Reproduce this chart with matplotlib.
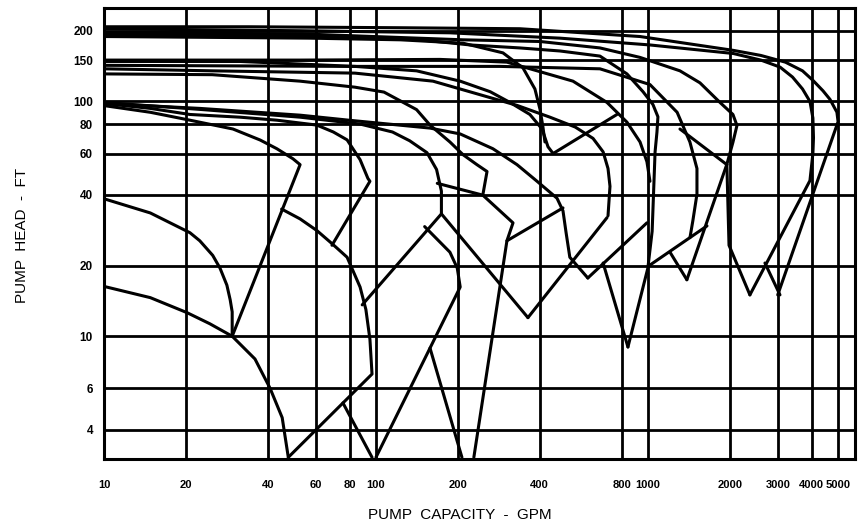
import matplotlib
matplotlib.use("Agg")
import matplotlib.pyplot as plt

# ---- data (capacity in GPM, head in ft) ----
x_ticks = [10, 20, 40, 60, 80, 100, 200, 400, 800, 1000, 2000, 3000, 4000, 5000]
y_ticks = [4, 6, 10, 20, 40, 60, 80, 100, 150, 200]

# smallest pumps
p1_lo_q = [10, 14.8, 20.2, 24.5, 29.6, 35.9, 40.8, 45.2, 47.6]
p1_lo_h = [16.3, 14.6, 12.6, 11.3, 10.0, 8.0, 6.0, 4.5, 3.05]
p1_min_q = [10, 14.8, 20.7, 22.5, 25.1, 26.7, 28.3, 29.1, 29.6, 29.6]
p1_min_h = [38.5, 33.5, 27.6, 25.5, 22.1, 19.5, 16.5, 14.3, 12.7, 10.0]
p1_max_q = [10, 14.8, 20.7, 29.8, 37.5, 43.2, 49.5, 52.6, 29.6]
p1_max_h = [96, 89.9, 83.2, 76.3, 68.5, 62.9, 57.0, 53.8, 10.0]

p2_max_q = [10, 14.8, 20.7, 31.6, 43.2, 60.6, 69.7, 78.3, 87.4, 93.4, 95.0, 68.9]
p2_max_h = [98, 93.4, 88.0, 85.7, 83.2, 79.3, 74.1, 68.6, 56.5, 47.0, 45.7, 24.4]
p2_min_q = [45, 52.6, 60.6, 68.9, 78.3, 87.4, 91.8, 95.0, 96.7, 47.6]
p2_min_h = [34.8, 31.6, 28.2, 24.8, 21.7, 16.2, 13.0, 9.7, 6.9, 3.05]
p2_cut_q = [75.6, 96.7]
p2_cut_h = [5.2, 3.05]

p3_max_q = [10, 22.5, 52.6, 87.4, 115, 133, 154, 167, 174, 174, 89]
p3_max_h = [99, 92.5, 85.7, 80.1, 74.1, 68, 60.5, 51.3, 41.5, 33.2, 13.6]
p3_min_q = [151, 187, 199, 204, 100]
p3_min_h = [29.3, 22.8, 19.5, 16.2, 3.05]
p3_cut_q = [158, 207]
p3_cut_h = [8.9, 3.05]
p3_diag_q = [174, 362]
p3_diag_h = [33.2, 12.0]

p4_max_q = [10, 25, 52.6, 83.7, 107, 141, 158, 187, 209, 235, 256, 247]
p4_max_h = [131, 130, 122, 115, 109.6, 92.3, 79.3, 67.2, 59.3, 53.8, 50.3, 39.9]
p4_tie_q = [168, 247, 319, 303, 229]
p4_tie_h = [44.8, 39.9, 30.4, 25.5, 3.05]
p4_tie2_q = [303, 487]
p4_tie2_h = [25.5, 35.2]

p5_max_q = [10, 22.5, 52.6, 80.2, 158, 204, 269, 330, 391, 463, 487, 500, 516, 601]
p5_max_h = [98, 93.4, 87.4, 83.1, 77, 72.7, 62.9, 53.8, 45.7, 38.7, 34.2, 27.6, 21.7, 17.7]
v5_arm_q = [362, 707]
v5_arm_h = [12.0, 32.0]
v6_arm_q = [601, 991]
v6_arm_h = [17.7, 30.4]
v7_arm_q = [684, 844]
v7_arm_h = [20.5, 9.0]

# 150 ft family
b1_q = [10, 31.6, 83.7, 141, 204, 263, 311, 368, 408, 429, 448]
b1_h = [148, 148, 141, 135, 122, 110, 99, 88, 76.3, 64.1, 60]
b1_tie_q = [448, 769]
b1_tie_h = [60, 88]
b2_q = [10, 25, 83.7, 162, 247, 330, 436, 540, 628, 684, 713, 725, 713]
b2_h = [137.7, 135, 132, 122, 106, 96.2, 85.7, 77.8, 69.6, 61, 51.8, 43.5, 32.6]
b4_q = [10, 52.6, 172, 303, 530, 707, 837, 935, 991, 1017]
b4_h = [150, 150, 151, 147, 122, 99, 81.6, 67.2, 55.4, 45.7]
b5_q = [10, 80.2, 286, 666, 1017, 1280, 1426, 1514, 1514, 1462, 1427]
b5_h = [142.5, 141, 141, 137.7, 118, 89.9, 67.2, 51.8, 40.3, 31, 26.3]
b5_tie_q = [1311, 1950]
b5_tie_h = [76.3, 53.8]
v8_a_q = [1017, 1648]
v8_a_h = [20.1, 29.5]
v8_b_q = [1205, 1390]
v8_b_h = [22.8, 17.4]

# 200 ft family
a1_q = [10, 34, 123, 338, 935, 2060, 2600, 3200, 3700, 4040, 4400, 4670, 4950, 5000, 3000]
a1_h = [208, 208, 206, 204, 189, 165, 157, 147, 135, 123, 111, 102, 90, 82, 15]
a2_q = [10, 53, 187, 475, 1017, 2060, 2600, 3060, 3400, 3700, 3940, 4040, 4060, 4040, 3940, 2370]
a2_h = [204, 200, 196, 186, 174, 160, 150, 140, 127, 113, 100, 85, 70, 60, 46, 15]
a2_br_q = [2692, 3057]
a2_br_h = [20.5, 15]
a3_q = [10, 53, 209, 401, 666, 935, 1311, 1553, 1840, 2053, 2124, 2053, 1950, 1390]
a3_h = [196, 194, 183, 180, 169, 154, 135, 120, 99, 88, 79, 67, 54, 17.4]
a3_br_q = [1950, 1986, 2370]
a3_br_h = [54, 24.4, 15]
a4_q = [10, 53, 145, 222, 338, 475, 666, 837, 959, 1043, 1088, 1079, 1062, 1036, 999, 844]
a4_h = [192, 190, 183, 174, 169, 164, 156, 131, 110, 97, 86, 74, 61, 28, 19.5, 9.0]
a5_q = [10, 57.2, 123, 209, 293, 347, 384, 401, 411, 418]
a5_h = [189, 186, 183, 177, 161, 139, 113, 92.5, 77.8, 67.2]

curves = [
    (p1_lo_q, p1_lo_h), (p1_min_q, p1_min_h), (p1_max_q, p1_max_h),
    (p2_max_q, p2_max_h), (p2_min_q, p2_min_h), (p2_cut_q, p2_cut_h),
    (p3_max_q, p3_max_h), (p3_min_q, p3_min_h), (p3_cut_q, p3_cut_h),
    (p3_diag_q, p3_diag_h),
    (p4_max_q, p4_max_h), (p4_tie_q, p4_tie_h), (p4_tie2_q, p4_tie2_h),
    (p5_max_q, p5_max_h), (v5_arm_q, v5_arm_h), (v6_arm_q, v6_arm_h),
    (v7_arm_q, v7_arm_h),
    (b1_q, b1_h), (b1_tie_q, b1_tie_h), (b2_q, b2_h), (b4_q, b4_h),
    (b5_q, b5_h), (b5_tie_q, b5_tie_h), (v8_a_q, v8_a_h), (v8_b_q, v8_b_h),
    (a1_q, a1_h), (a2_q, a2_h), (a2_br_q, a2_br_h), (a3_q, a3_h),
    (a3_br_q, a3_br_h), (a4_q, a4_h), (a5_q, a5_h),
]

fig = plt.figure(figsize=(8.64, 5.27), dpi=100)
ax = fig.add_axes([104 / 864, 1 - 459 / 527, 751 / 864, 451 / 527])
ax.set_xscale("log")
ax.set_yscale("log")
ax.set_xlim(10, 5770)
ax.set_ylim(3, 250)

for q, h in curves:
    ax.plot(q, h, color="black", lw=2.2, solid_joinstyle="round",
            solid_capstyle="round", zorder=3)

ax.set_xticks(x_ticks)
ax.set_xticklabels([str(v) for v in x_ticks])
ax.set_yticks(y_ticks)
ax.set_yticklabels([str(v) for v in y_ticks])
ax.minorticks_off()
ax.tick_params(length=0)
ax.tick_params(axis="x", pad=15, labelsize=8)
ax.tick_params(axis="y", pad=8, labelsize=8.5)
for lab in ax.get_xticklabels() + ax.get_yticklabels():
    lab.set_fontweight("bold")
    lab.set_fontfamily("Liberation Sans")

ax.grid(True, color="black", lw=2.0, zorder=1)
for s in ax.spines.values():
    s.set_linewidth(2.2)

fig.text(460 / 864, 1 - 515 / 527, "PUMP  CAPACITY  -  GPM", ha="center", va="center",
         fontsize=11, family="Liberation Sans")
fig.text(22 / 864, 1 - 235 / 527, "PUMP  HEAD  -  FT", ha="center", va="center",
         rotation=90, fontsize=11, family="Liberation Sans")

fig.savefig("out.png", dpi=100)
